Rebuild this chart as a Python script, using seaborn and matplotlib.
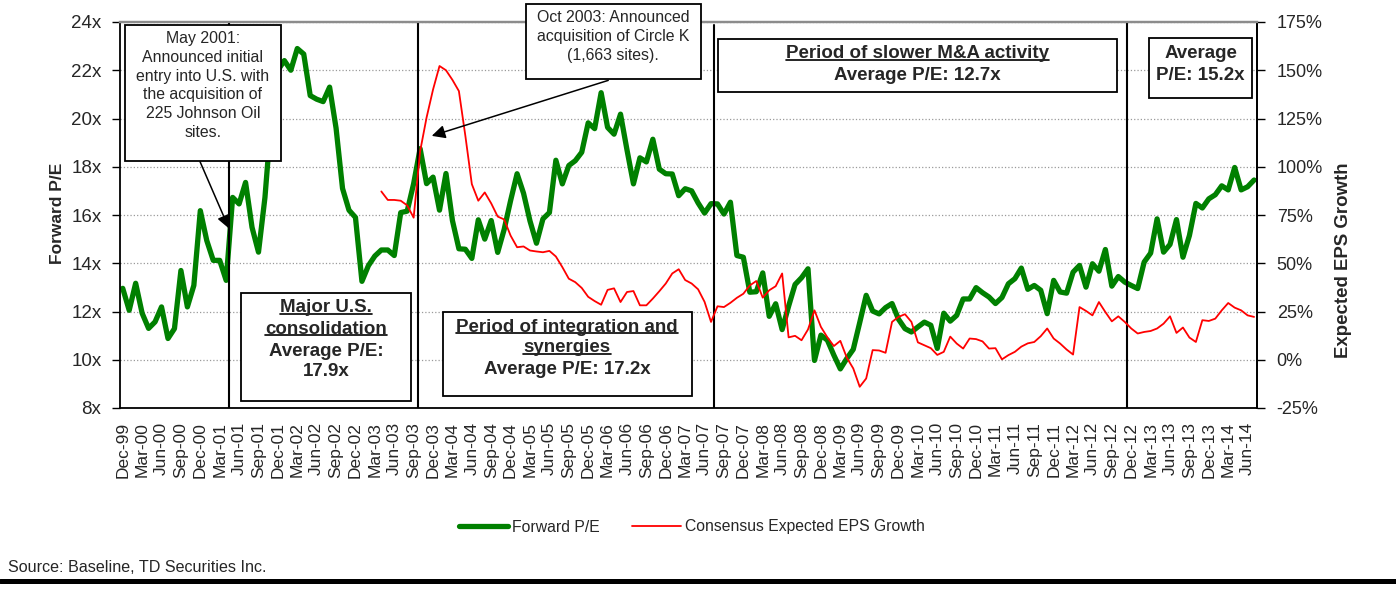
import numpy as np
import pandas as pd
import matplotlib
matplotlib.use('Agg')
import matplotlib.pyplot as plt
from matplotlib.patches import Rectangle
from matplotlib.lines import Line2D
import seaborn as sns

# monthly observations, Dec-99 .. Jul-14
months = pd.date_range('1999-12-01', '2014-07-01', freq='MS').strftime('%b-%y').tolist()

forward_pe = [
    12.96, 12.05, 13.17, 11.93, 11.30, 11.57, 12.19, 10.88, 11.29, 13.70, 12.19, 13.08,
    16.18, 14.94, 14.12, 14.12, 13.29, 16.73, 16.46, 17.35, 15.49, 14.46, 16.73, 20.10,
    22.00, 22.40, 22.00, 22.90, 22.67, 20.95, 20.80, 20.70, 21.30, 19.60, 17.10, 16.20,
    15.90, 13.25, 13.90, 14.30, 14.55, 14.55, 14.32, 16.10, 16.16, 17.30, 18.75, 17.30,
    17.57, 16.20, 17.72, 15.77, 14.60, 14.58, 14.20, 15.80, 15.00, 15.77, 14.45, 15.40,
    16.60, 17.71, 16.90, 15.75, 14.83, 15.84, 16.10, 18.27, 17.29, 18.05, 18.25, 18.60,
    19.82, 19.58, 21.07, 19.63, 19.35, 20.18, 18.70, 17.29, 18.37, 18.20, 19.14, 17.90,
    17.71, 17.70, 16.80, 17.09, 17.00, 16.50, 16.08, 16.47, 16.46, 16.04, 16.53, 14.32,
    14.25, 12.80, 12.82, 13.60, 11.80, 12.32, 11.25, 12.22, 13.12, 13.40, 13.77, 9.97,
    11.02, 10.81, 10.19, 9.62, 10.05, 10.43, 11.54, 12.67, 12.02, 11.90, 12.16, 12.33,
    11.68, 11.29, 11.15, 11.36, 11.56, 11.43, 10.47, 11.93, 11.60, 11.84, 12.52, 12.52,
    12.99, 12.78, 12.60, 12.33, 12.58, 13.15, 13.36, 13.80, 12.92, 13.08, 12.88, 11.91,
    13.29, 12.81, 12.76, 13.63, 13.91, 13.01, 13.98, 13.67, 14.57, 13.05, 13.45, 13.22,
    13.08, 12.95, 14.05, 14.42, 15.84, 14.46, 14.78, 15.81, 14.25, 15.15, 16.48, 16.29,
    16.67, 16.84, 17.21, 17.04, 17.97, 17.04, 17.17, 17.45,
]

# consensus expected EPS growth (%), series starts Apr-03
eps_start = 'Apr-03'
eps_growth = [
    87.2, 82.8, 82.8, 82.4, 80.0, 73.6, 108.0, 125.5, 140.0, 152.2, 150.0, 145.0,
    139.2, 116.0, 91.0, 82.4, 86.7, 81.0, 74.2, 72.7, 64.3, 58.3, 58.7, 56.6,
    56.1, 55.7, 56.4, 53.5, 48.0, 42.0, 40.2, 37.2, 32.6, 30.4, 28.5, 36.2,
    37.0, 29.9, 35.1, 35.6, 28.2, 28.2, 31.7, 35.5, 39.5, 44.7, 46.9, 41.3,
    39.5, 36.5, 30.0, 19.6, 27.7, 27.3, 29.5, 32.1, 34.2, 38.5, 40.8, 32.2,
    36.0, 38.1, 44.7, 11.6, 12.4, 10.1, 15.7, 25.6, 17.0, 11.6, 7.1, 9.8,
    1.1, -4.5, -14.0, -9.7, 5.0, 4.8, 3.6, 19.6, 22.2, 23.6, 19.6, 9.0,
    7.5, 6.0, 2.5, 4.1, 12.0, 8.4, 5.8, 11.0, 10.7, 9.5, 5.8, 6.0,
    0.2, 2.4, 4.1, 6.8, 8.5, 9.2, 12.2, 16.2, 11.0, 8.4, 5.3, 2.7,
    27.3, 25.3, 23.0, 29.9, 24.7, 19.9, 22.5, 19.6, 16.2, 13.6, 14.4, 14.9,
    16.2, 18.7, 22.5, 13.9, 16.7, 11.5, 9.2, 20.5, 20.1, 21.3, 25.6, 29.4,
    27.0, 25.6, 23.0, 22.2,
]

pe_ticks = [8, 10, 12, 14, 16, 18, 20, 22, 24]
eps_ticks = [-25, 0, 25, 50, 75, 100, 125, 150, 175]

sns.set_theme(style='white')
plt.rcParams['font.family'] = ['Liberation Sans', 'DejaVu Sans']

W, H = 1396, 596
fig = plt.figure(figsize=(W / 100, H / 100), dpi=100)
ax = fig.add_axes([119.5 / W, 1 - 408 / H, 1137.8 / W, 386 / H])
ax2 = ax.twinx()

x_all = np.arange(len(months))
x_eps = np.arange(months.index(eps_start), len(months))

sns.lineplot(x=x_all, y=forward_pe, ax=ax, color='#008000', linewidth=3.8,
             label='Forward P/E', legend=False,
             solid_joinstyle='round', solid_capstyle='round')
sns.lineplot(x=x_eps, y=eps_growth, ax=ax2, color='#ff0000', linewidth=1.3,
             label='Consensus Expected EPS Growth', legend=False,
             solid_joinstyle='round')
handles = [ax.lines[0], ax2.lines[0]]

ax.set_xlim(-0.5, len(months) - 0.5)
ax.set_ylim(8, 24)
ax2.set_ylim(-25, 175)

# period separators
for xv, top in [(16.5, 1), (45.6, 1), (91.5, 0.992), (155.3, 1)]:
    ax.axvline(xv, ymax=top, color='black', lw=1.5, zorder=3)

ax.yaxis.grid(True, linestyle=':', color='#9a9a9a', lw=0.9)
ax.set_yticks(pe_ticks)
ax.set_yticklabels([f'{v}x' for v in pe_ticks])
ax2.set_yticks(eps_ticks)
ax2.set_yticklabels([f'{v}%' for v in eps_ticks])

ax.set_xticks(x_all[::3])
ax.set_xticklabels(months[::3], rotation=90)
ax.set_xticks(np.arange(-0.5, len(months), 3), minor=True)
ax.tick_params(axis='x', which='major', length=0, pad=10, labelsize=12.5)
ax.tick_params(axis='x', which='minor', direction='inout', length=9, width=1, color='#555555')
ax.tick_params(axis='y', which='major', direction='out', length=6, width=1, pad=7,
               labelsize=13.5, left=True, color='black')
ax2.tick_params(axis='y', direction='out', length=6, width=1, pad=8, labelsize=13,
                right=True, color='black')
ax.set_xlabel('')
ax.set_ylabel('')
ax2.set_ylabel('')

for a in (ax, ax2):
    for s in a.spines.values():
        s.set_color('black')
        s.set_linewidth(1.3)
    a.spines['top'].set_color('#8c8c8c')
    a.spines['top'].set_linewidth(1.6)
ax2.spines['left'].set_visible(False)
ax2.spines['bottom'].set_visible(False)

fig.text(57 / W, 1 - 213 / H, 'Forward P/E', rotation=90, ha='center', va='center',
         fontsize=12.5, fontweight='bold')
fig.text(1343 / W, 1 - 260 / H, 'Expected EPS Growth', rotation=90, ha='center',
         va='center', fontsize=13.4, fontweight='bold')


def px(x, y):
    return x / W, 1 - y / H


def box(x0, y0, x1, y1):
    fig.add_artist(Rectangle(px(x0, y1), (x1 - x0) / W, (y1 - y0) / H,
                             transform=fig.transFigure, facecolor='white',
                             edgecolor='black', lw=1.3, zorder=5))


underlined = []


def line_text(x, y, s, size, bold=True, under=False):
    t = fig.text(*px(x, y), s, ha='center', va='center', fontsize=size,
                 fontweight='bold' if bold else 'normal', zorder=6)
    if under:
        underlined.append(t)
    return t


# annotation boxes
box(125, 25, 281, 161)
fig.text(*px(203, 85.5), 'May 2001:\nAnnounced initial\nentry into U.S. with\nthe acquisition of\n'
         '225 Johnson Oil\nsites.', ha='center', va='center', fontsize=11.4,
         linespacing=1.32, zorder=6)

box(526, 4, 701, 79)
fig.text(*px(613, 36.7), 'Oct 2003: Announced\nacquisition of Circle K\n(1,663 sites).',
         ha='center', va='center', fontsize=11.4, linespacing=1.32, zorder=6)

box(241, 293, 411, 401)
line_text(326, 308, 'Major U.S.', 13.5, under=True)
line_text(326, 329, 'consolidation', 13.5, under=True)
line_text(326, 351, 'Average P/E:', 13.5)
line_text(326, 372, '17.9x', 13.5)

box(443, 312, 692, 396)
line_text(567, 327, 'Period of integration and', 13.5, under=True)
line_text(567, 348, 'synergies', 13.5, under=True)
line_text(567, 370, 'Average P/E: 17.2x', 13.5)

box(718, 39, 1117, 92)
line_text(917.5, 54, 'Period of slower M&A activity', 13.5, under=True)
line_text(917.5, 76, 'Average P/E: 12.7x', 13.5)

box(1149, 38, 1252, 98)
line_text(1200.5, 53, 'Average', 13.5)
line_text(1200.5, 75, 'P/E: 15.2x', 13.5)

arrow = dict(arrowstyle='-|>', color='black', lw=1.1, mutation_scale=20,
             shrinkA=0, shrinkB=0)
ax2.annotate('', xy=(16.44, 15.44), xytext=(11.96, 18.21), xycoords=ax.transData,
             textcoords=ax.transData, arrowprops=arrow, annotation_clip=False)
ax2.annotate('', xy=(47.8, 19.28), xytext=(75.1, 21.58), xycoords=ax.transData,
             textcoords=ax.transData, arrowprops=arrow, annotation_clip=False)

fig.legend(handles=handles, labels=[h.get_label() for h in handles], loc='center',
           bbox_to_anchor=(692 / W, 1 - 527 / H), ncol=2, frameon=False, fontsize=11.3,
           handlelength=3.1, handletextpad=0.25, columnspacing=2.1, borderaxespad=0)

fig.text(8 / W, 1 - 567 / H, 'Source: Baseline, TD Securities Inc.', ha='left',
         va='center', fontsize=11.6)
fig.add_artist(Line2D([0, 1], [1 - 580.5 / H] * 2, transform=fig.transFigure,
                      color='black', lw=3.6))

# underline the period headings
fig.canvas.draw()
renderer = fig.canvas.get_renderer()
for t in underlined:
    bb = t.get_window_extent(renderer)
    yy = bb.y0 + 2.5
    fig.add_artist(Line2D([bb.x0 / W, bb.x1 / W], [yy / H, yy / H],
                          transform=fig.transFigure, color='black', lw=1.2, zorder=6))

fig.savefig('out.png', dpi=100, facecolor='white')
